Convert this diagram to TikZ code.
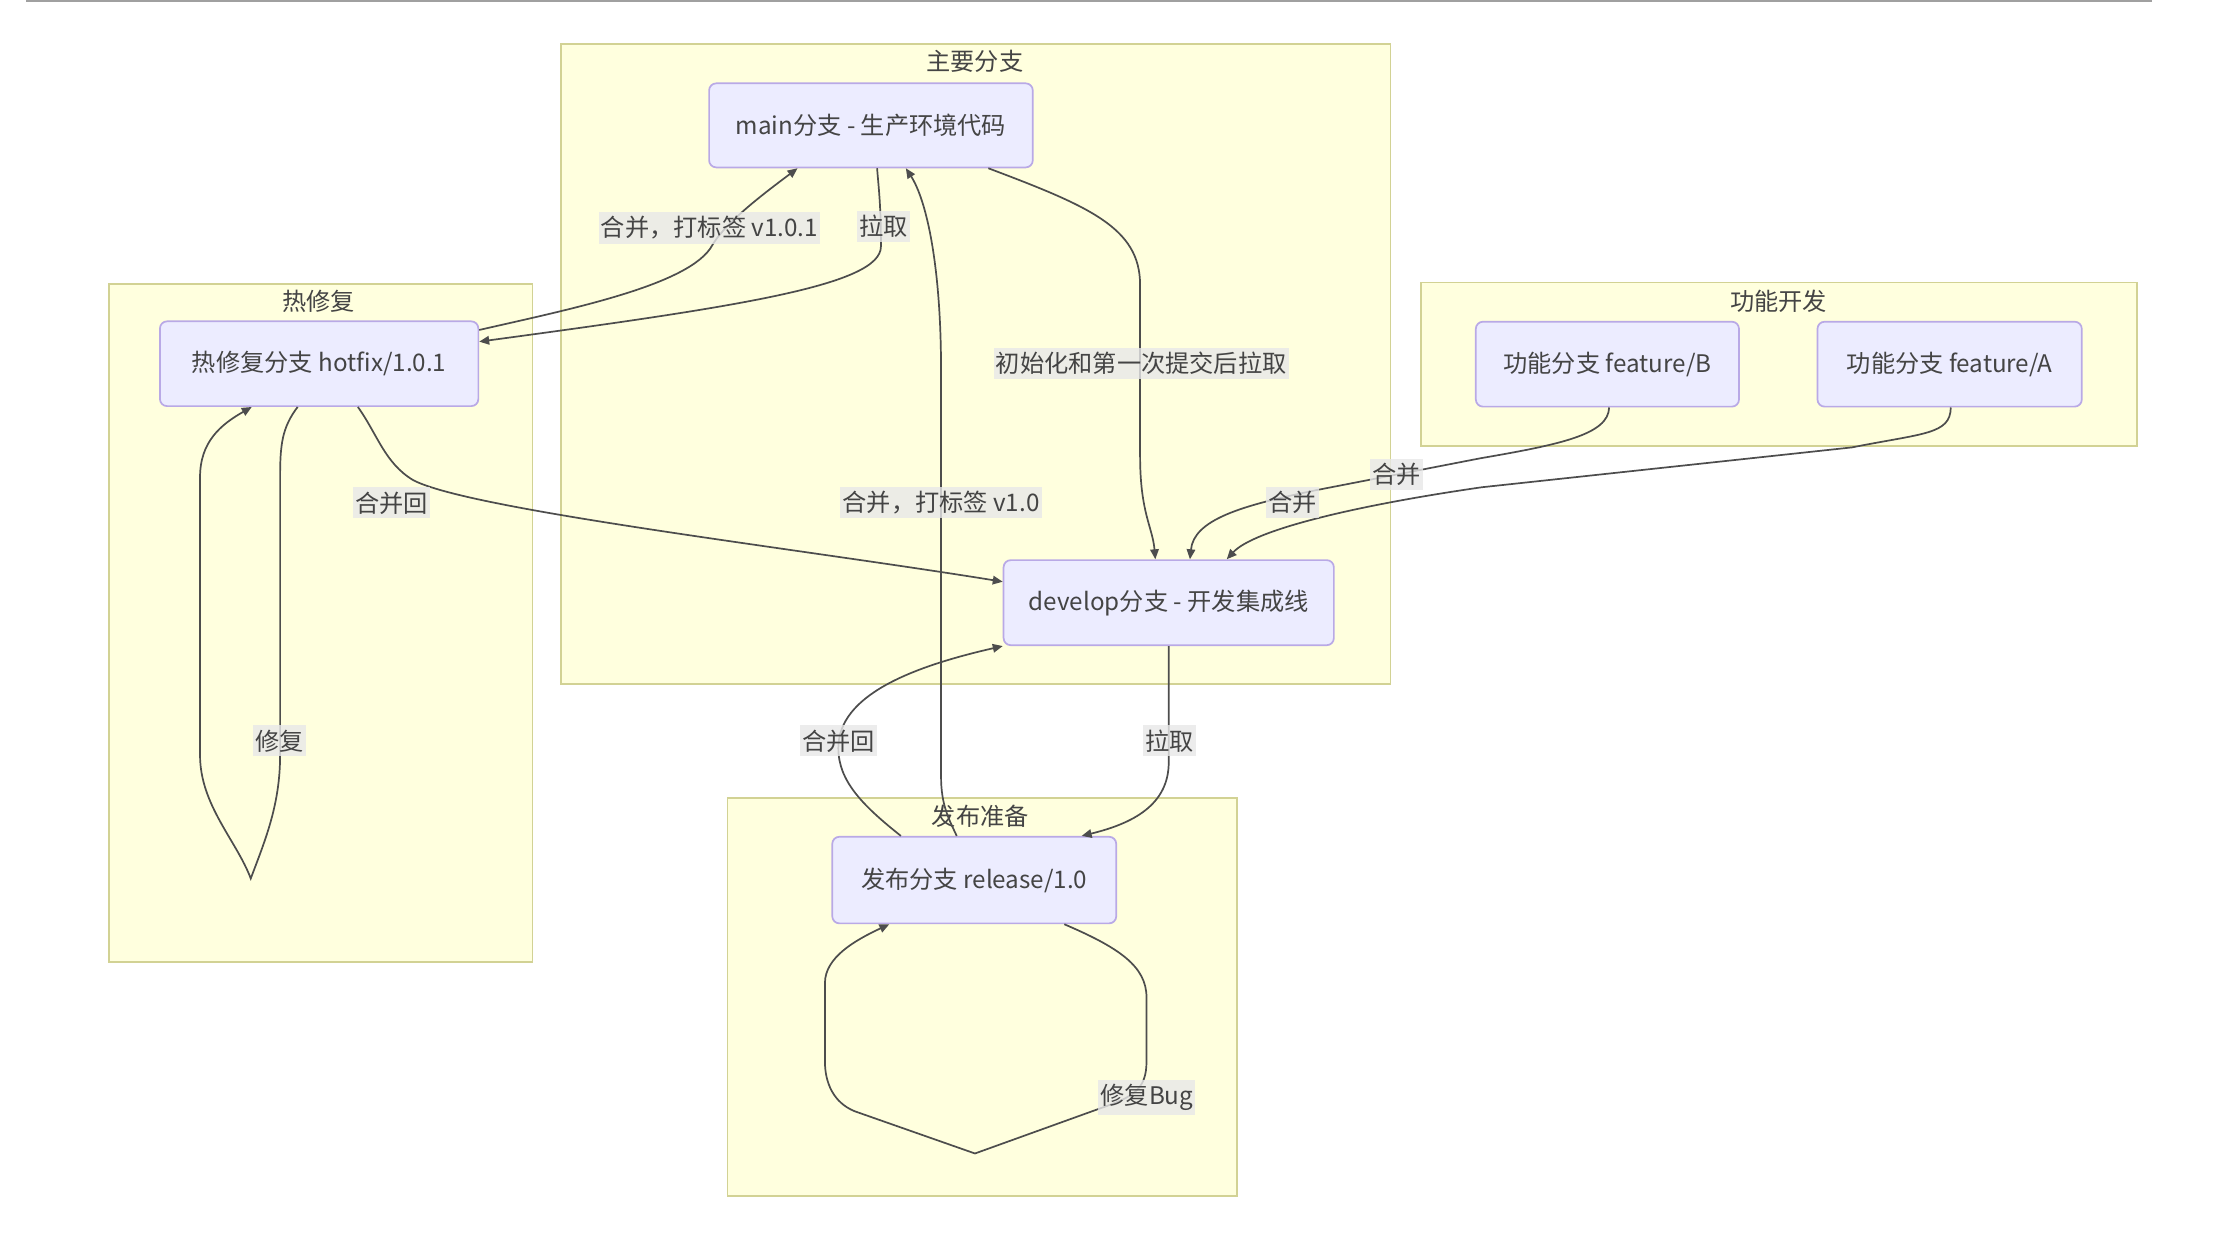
\documentclass[tikz,border=0pt]{standalone}
\usepackage{fontspec}
\setmainfont{Noto Sans CJK SC}
\usetikzlibrary{arrows.meta,calc}
\definecolor{clfill}{HTML}{FFFFDE}
\definecolor{cldraw}{HTML}{D2D294}
\definecolor{ndfill}{HTML}{ECECFF}
\definecolor{nddraw}{HTML}{B9A9E6}
\definecolor{txt}{HTML}{444444}
\definecolor{edgec}{HTML}{4D4D4D}
\definecolor{lblbg}{HTML}{E8E8E8}
\definecolor{rulec}{HTML}{A0A0A0}
\begin{document}
\begin{tikzpicture}[x=1pt,y=-1pt,
  cluster/.style={draw=cldraw,fill=clfill,line width=1.2pt,anchor=north west,inner sep=0pt},
  ctitle/.style={text=txt,font=\fontsize{17}{20}\selectfont,inner sep=0pt},
  box/.style={draw=nddraw,fill=ndfill,line width=1.2pt,rounded corners=5pt,text=txt,
    font=\fontsize{17}{20}\selectfont,inner sep=0pt},
  conn/.style={draw=edgec,line width=1.2pt,-{Triangle[length=7pt,width=6pt]}},
  elabel/.style={fill=lblbg,fill opacity=0.8,text opacity=1,text=txt,
    font=\fontsize{17}{20}\selectfont,inner xsep=1.5pt,inner ysep=3pt}
]
\fill[white] (0,0) rectangle (1568,869);
\useasboundingbox (0,0) rectangle (1568,869);
\draw[rulec,line width=1.5pt] (18.3,1) -- (1510.2,1);

% clusters
\node[cluster,minimum width=582.2pt,minimum height=449.2pt] (cmain) at (393.1,30.5) {};
\node[cluster,minimum width=297.2pt,minimum height=475.7pt] (chot) at (76,198.9) {};
\node[cluster,minimum width=502.8pt,minimum height=114.6pt] (cfeat) at (996.7,197.7) {};
\node[cluster,minimum width=357.3pt,minimum height=279.3pt] (crel) at (510.1,559.5) {};
\node[ctitle] (tmain) at (684.2,43.3) {主要分支};
\node[ctitle] (thot) at (223.5,211.4) {热修复};
\node[ctitle] (tfeat) at (1248.4,211.7) {功能开发};
\node[ctitle] (trel) at (688.1,573.2) {发布准备};

% nodes
\node[box,minimum width=227.2pt,minimum height=59pt] (main) at (611.3,88) {main分支 - 生产环境代码};
\node[box,minimum width=223.5pt,minimum height=59.5pt] (hotfix) at (224,255.3) {热修复分支 hotfix/1.0.1};
\node[box,minimum width=184.7pt,minimum height=59.6pt] (featB) at (1128.2,255.6) {功能分支 feature/B};
\node[box,minimum width=185.5pt,minimum height=59.6pt] (featA) at (1368.4,255.6) {功能分支 feature/A};
\node[box,minimum width=231.8pt,minimum height=59.7pt] (develop) at (820.3,423) {develop分支 - 开发集成线};
\node[box,minimum width=199.3pt,minimum height=60.8pt] (release) at (683.8,617.7) {发布分支 release/1.0};

% edges
\draw[conn] ([xshift=4.3pt]main.south) .. controls (617,135) and (618.3,145) .. (618.3,173)
  .. controls (618.3,200) and (520,215) .. ([yshift=15.5pt]hotfix.east);
\draw[conn] ([yshift=23.7pt]hotfix.east) .. controls (400,217) and (485,200) .. (500,172)
  .. controls (510,155) and (540,133) .. ([xshift=-51.5pt]main.south);
\draw[conn] ([xshift=82.4pt]main.south) .. controls (765,145) and (800.2,160) .. (800.2,200)
  -- (800.2,320) .. controls (800.2,360) and (809,370) .. ([xshift=-9.4pt]develop.north);
\draw[conn] ([xshift=-12.3pt]release.north) .. controls (666,575) and (660.5,565) .. (660.5,545)
  -- (660.5,260) .. controls (660.5,185) and (650,140) .. ([xshift=24.5pt]main.south);
\draw[conn] ([xshift=27.2pt]hotfix.south) .. controls (265,305) and (270,325) .. (290,337)
  .. controls (330,358) and (560,385) .. ([yshift=14.7pt]develop.west);
\draw[conn] ([xshift=-15.1pt]hotfix.south) .. controls (198,300) and (196.6,312) .. (196.6,335)
  -- (196.6,530) .. controls (196.6,565) and (186,590) .. (176,616.6)
  .. controls (166,590) and (140.4,565) .. (140.4,530) -- (140.4,335)
  .. controls (140.4,310) and (155,298) .. ([xshift=-47.3pt]hotfix.south);
\draw[conn] ([xshift=1.2pt]featB.south) .. controls (1129,305) and (1095,312) .. (1038.8,321.7)
  -- (924,344) .. controls (870,355) and (838,365) .. ([xshift=14.9pt]develop.north);
\draw[conn] ([xshift=0.8pt]featA.south) .. controls (1369,305) and (1350,304) .. (1300,314)
  -- (1040,342) .. controls (950,355) and (880,372) .. ([xshift=40.7pt]develop.north);
\draw[conn] ([xshift=-51.5pt]release.north) .. controls (605,565) and (588.4,548) .. (588.4,525)
  .. controls (588.4,488) and (640,468) .. (develop.south west);
\draw[conn] (develop.south) -- (820.3,535) .. controls (820.3,565) and (795,578) .. ([xshift=75.4pt]release.north);
\draw[conn] ([xshift=63.2pt]release.south) .. controls (785,665) and (804.7,678) .. (804.7,700)
  -- (804.7,745) .. controls (804.7,765) and (795,770) .. (772,778) -- (684.3,809.6) -- (600,780)
  .. controls (585,774) and (579,760) .. (579,745) -- (579,690)
  .. controls (579,672) and (600,660) .. ([xshift=-59.6pt]release.south);

% edge labels
\node[elabel] (l1) at (498,160) {合并，打标签 v1.0.1};
\node[elabel] (l2) at (620,159) {拉取};
\node[elabel] (l3) at (801,255) {初始化和第一次提交后拉取};
\node[elabel] (l4) at (660.5,352.8) {合并，打标签 v1.0};
\node[elabel] (l5) at (275,353) {合并回};
\node[elabel] (l6) at (196,520) {修复};
\node[elabel] (l7) at (980.3,332.8) {合并};
\node[elabel] (l8) at (907,352.7) {合并};
\node[elabel] (l9) at (588.5,520) {合并回};
\node[elabel] (l10) at (821,520) {拉取};
\node[elabel] (l11) at (805,770) {修复Bug};
\end{tikzpicture}
\end{document}
